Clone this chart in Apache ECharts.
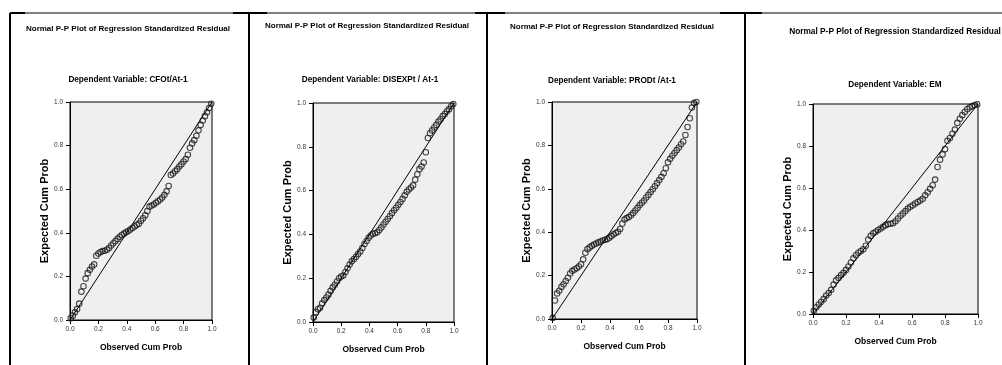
<!DOCTYPE html>
<html>
<head>
<meta charset="utf-8">
<script src="https://cdn.jsdelivr.net/npm/echarts@6/dist/echarts.min.js"></script>
<style>
  html, body { margin: 0; padding: 0; background: #fff; }
  #chart { width: 1002px; height: 365px; }
</style>
</head>
<body>
<div id="chart"></div>
<script>
// observed cumulative probability (same sample in all four regressions)
const obsCumProb = [
  0.005, 0.02, 0.035, 0.05, 0.065, 0.08, 0.095, 0.11, 0.125, 0.14,
  0.155, 0.17, 0.185, 0.2, 0.215, 0.23, 0.245, 0.26, 0.275, 0.29,
  0.305, 0.32, 0.335, 0.35, 0.365, 0.38, 0.395, 0.41, 0.425, 0.44,
  0.455, 0.47, 0.485, 0.5, 0.515, 0.53, 0.545, 0.56, 0.575, 0.59,
  0.605, 0.62, 0.635, 0.65, 0.665, 0.68, 0.695, 0.71, 0.725, 0.74,
  0.755, 0.77, 0.785, 0.8, 0.815, 0.83, 0.845, 0.86, 0.875, 0.89,
  0.905, 0.92, 0.935, 0.95, 0.965, 0.98, 0.995
];

// expected cumulative probability, one array per dependent variable
const expCFO = [
  0.008, 0.02, 0.035, 0.05, 0.075, 0.13, 0.155, 0.19, 0.215, 0.23,
  0.245, 0.255, 0.295, 0.305, 0.312, 0.316, 0.318, 0.322, 0.33, 0.342,
  0.352, 0.362, 0.372, 0.382, 0.39, 0.396, 0.402, 0.408, 0.415, 0.422,
  0.429, 0.436, 0.442, 0.455, 0.467, 0.48, 0.5, 0.52, 0.525, 0.53,
  0.538, 0.545, 0.553, 0.562, 0.574, 0.59, 0.615, 0.665, 0.672, 0.682,
  0.692, 0.704, 0.715, 0.727, 0.738, 0.758, 0.79, 0.81, 0.825, 0.845,
  0.87, 0.895, 0.915, 0.935, 0.953, 0.972, 0.992
];
const expDISEXP = [
  0.02, 0.045, 0.058, 0.065, 0.085, 0.1, 0.112, 0.125, 0.142, 0.158,
  0.17, 0.185, 0.2, 0.208, 0.212, 0.228, 0.245, 0.262, 0.277, 0.288,
  0.298, 0.31, 0.322, 0.338, 0.356, 0.37, 0.385, 0.395, 0.403, 0.405,
  0.41, 0.42, 0.432, 0.445, 0.458, 0.47, 0.483, 0.497, 0.51, 0.522,
  0.535, 0.548, 0.562, 0.578, 0.595, 0.605, 0.614, 0.624, 0.65, 0.675,
  0.698, 0.71, 0.728, 0.775, 0.84, 0.862, 0.875, 0.888, 0.9, 0.915,
  0.926, 0.94, 0.95, 0.962, 0.972, 0.985, 0.995
];
const expPROD = [
  0.005, 0.085, 0.118, 0.13, 0.148, 0.16, 0.175, 0.19, 0.21, 0.222,
  0.228, 0.234, 0.242, 0.252, 0.275, 0.305, 0.322, 0.33, 0.337, 0.343,
  0.348, 0.353, 0.357, 0.362, 0.365, 0.368, 0.375, 0.382, 0.39, 0.396,
  0.402, 0.415, 0.44, 0.458, 0.465, 0.47, 0.478, 0.488, 0.5, 0.512,
  0.525, 0.536, 0.546, 0.56, 0.572, 0.585, 0.598, 0.612, 0.626, 0.64,
  0.655, 0.672, 0.695, 0.722, 0.738, 0.752, 0.765, 0.778, 0.79, 0.805,
  0.818, 0.848, 0.885, 0.925, 0.975, 0.995, 1.0
];
const expEM = [
  0.015, 0.032, 0.045, 0.058, 0.072, 0.088, 0.1, 0.115, 0.14, 0.16,
  0.172, 0.185, 0.196, 0.21, 0.226, 0.245, 0.265, 0.28, 0.292, 0.3,
  0.308, 0.325, 0.355, 0.372, 0.384, 0.392, 0.4, 0.407, 0.415, 0.423,
  0.428, 0.43, 0.432, 0.442, 0.455, 0.468, 0.478, 0.49, 0.502, 0.511,
  0.518, 0.526, 0.533, 0.54, 0.549, 0.565, 0.58, 0.596, 0.613, 0.64,
  0.7, 0.735, 0.76, 0.785, 0.825, 0.838, 0.858, 0.878, 0.91, 0.93,
  0.947, 0.962, 0.975, 0.984, 0.99, 0.995, 0.998
];

// diagonal reference line
const refLine = [[0, 0], [1, 1]];

const mainTitle = "Normal P-P Plot of Regression Standardized Residual";
const depVarTitles = [
  "Dependent Variable: CFOt/At-1",
  "Dependent Variable: DISEXPt / At-1",
  "Dependent Variable: PRODt /At-1",
  "Dependent Variable: EM",
];
const seriesList = [expCFO, expDISEXP, expPROD, expEM];
const xName = "Observed Cum Prob";
const yName = "Expected Cum Prob";

// layout of each panel (pixels)
const panels = [
  { left: 70, top: 102, width: 142, height: 218, titleX: 128, titleY: 25, subX: 128, subY: 76, titleSize: 8 },
  { left: 313, top: 103, width: 141, height: 219, titleX: 367, titleY: 22, subX: 370, subY: 76, titleSize: 8 },
  { left: 552, top: 102, width: 145, height: 217, titleX: 612, titleY: 23, subX: 612, subY: 77, titleSize: 8 },
  { left: 813, top: 104, width: 165, height: 210, titleX: 895, titleY: 28, subX: 895, subY: 81, titleSize: 8.3 },
];

const narrow = '"Liberation Sans Narrow", "Arial Narrow", "Liberation Sans", sans-serif';
const wide = '"Liberation Sans", Arial, sans-serif';

const chart = echarts.init(document.getElementById("chart"));

const titles = [];
const grids = [];
const xAxes = [];
const yAxes = [];
const series = [];

panels.forEach((p, i) => {
  titles.push({
    text: mainTitle, left: p.titleX, top: p.titleY, textAlign: "center", padding: 0,
    textStyle: { fontFamily: narrow, fontSize: p.titleSize, fontWeight: "bold", color: "#000" },
  });
  titles.push({
    text: depVarTitles[i], left: p.subX, top: p.subY, textAlign: "center", padding: 0,
    textStyle: { fontFamily: narrow, fontSize: 8.2, fontWeight: "bold", color: "#000" },
  });

  grids.push({
    left: p.left, top: p.top, width: p.width, height: p.height,
    show: true, backgroundColor: "#efefef", borderColor: "#000", borderWidth: 1,
  });

  xAxes.push({
    type: "value", gridIndex: i, min: 0, max: 1, interval: 0.2,
    name: xName, nameLocation: "middle", nameGap: 23,
    nameTextStyle: { fontFamily: narrow, fontSize: 8.5, fontWeight: "bold", color: "#000" },
    axisLine: { show: true, onZero: false, lineStyle: { color: "#000", width: 1 } },
    axisTick: { show: true, length: 4, lineStyle: { color: "#000" } },
    axisLabel: { fontFamily: narrow, fontSize: 6.5, color: "#333", margin: 6, formatter: (v) => v.toFixed(1) },
    splitLine: { show: false },
  });
  yAxes.push({
    type: "value", gridIndex: i, min: 0, max: 1, interval: 0.2,
    name: yName, nameLocation: "middle", nameGap: 13, nameRotate: 90,
    nameTextStyle: { fontFamily: wide, fontSize: 11, fontWeight: "bold", color: "#000" },
    axisLine: { show: true, onZero: false, lineStyle: { color: "#000", width: 1 } },
    axisTick: { show: true, length: 4, lineStyle: { color: "#000" } },
    axisLabel: { fontFamily: narrow, fontSize: 6.5, color: "#333", margin: 7, formatter: (v) => v.toFixed(1) },
    splitLine: { show: false },
  });

  series.push({
    type: "line", xAxisIndex: i, yAxisIndex: i, data: refLine,
    symbol: "none", silent: true,
    lineStyle: { color: "#000", width: 1 },
  });
  series.push({
    type: "scatter", xAxisIndex: i, yAxisIndex: i,
    data: obsCumProb.map((x, j) => [x, seriesList[i][j]]),
    symbol: "circle", symbolSize: 5.5,
    itemStyle: { color: "rgba(0,0,0,0)", borderColor: "#1a1a1a", borderWidth: 1.1 },
  });
});

// frame lines between the panels
const frame = [];
[10, 249, 487, 745].forEach((x) => {
  frame.push({ type: "line", shape: { x1: x, y1: 13, x2: x, y2: 365 }, style: { stroke: "#000", lineWidth: 2 } });
});
frame.push({ type: "line", shape: { x1: 10, y1: 13, x2: 1002, y2: 13 }, style: { stroke: "#000", lineWidth: 1 } });
[[10, 25], [233, 267], [475, 505], [720, 762]].forEach(([a, b]) => {
  frame.push({ type: "line", shape: { x1: a, y1: 13, x2: b, y2: 13 }, style: { stroke: "#000", lineWidth: 2 } });
});

chart.setOption({
  animation: false,
  backgroundColor: "#fff",
  title: titles,
  grid: grids,
  xAxis: xAxes,
  yAxis: yAxes,
  series,
  graphic: frame,
});
</script>
</body>
</html>
